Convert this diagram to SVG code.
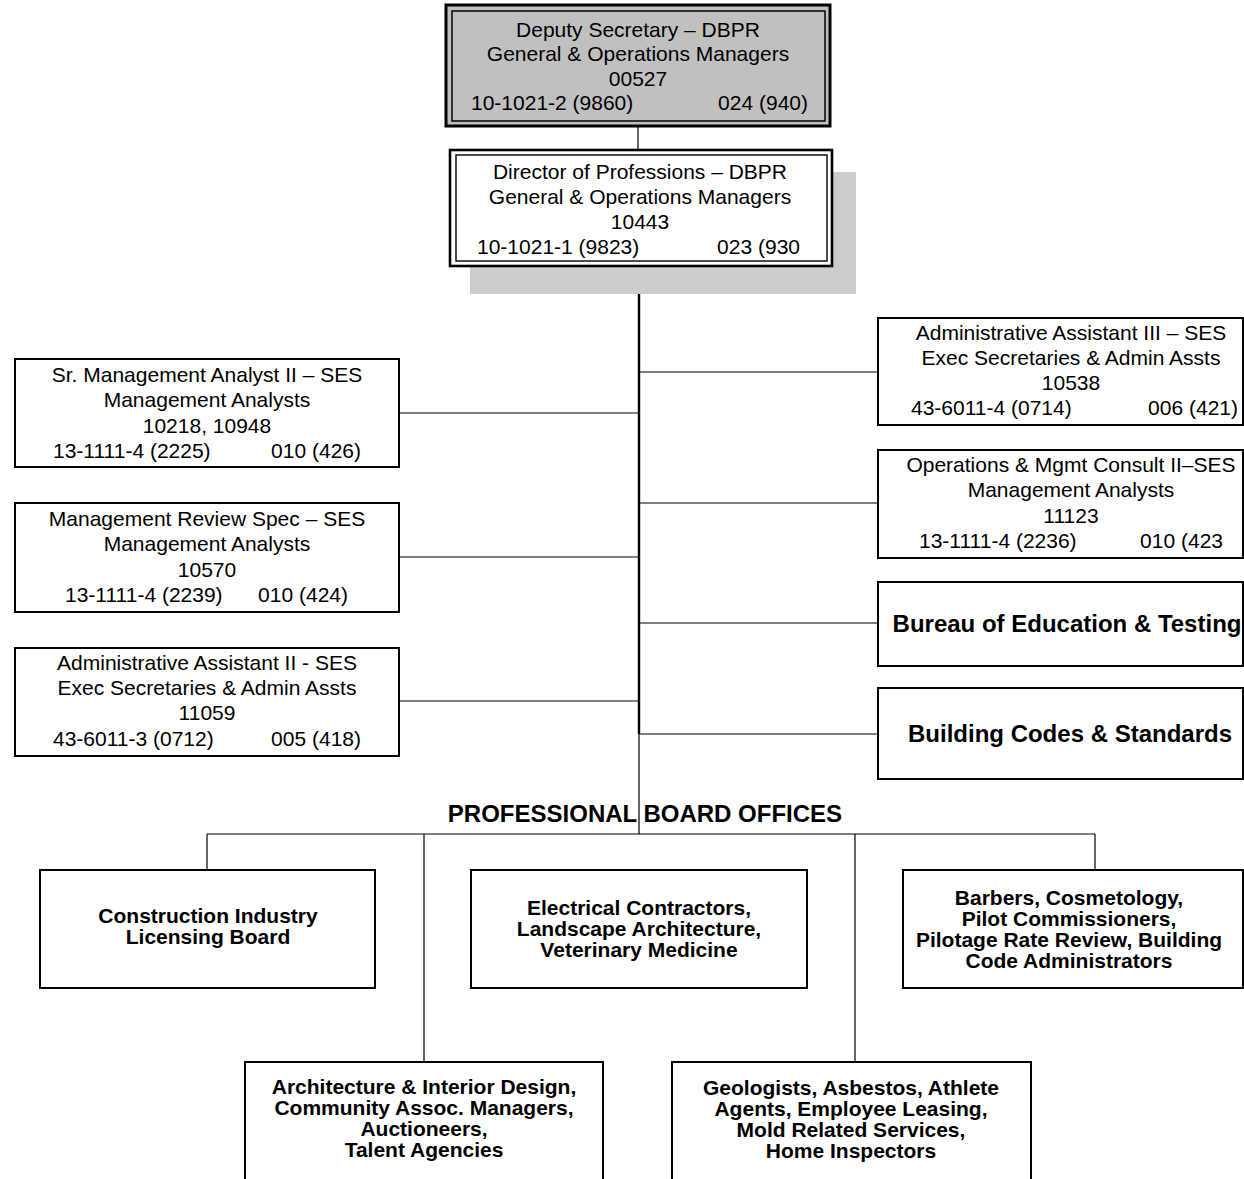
<svg xmlns="http://www.w3.org/2000/svg" width="1244" height="1179" viewBox="0 0 1244 1179">
  <style>
    text { font-family: "Liberation Sans", Arial, sans-serif; fill: #000; }
    .t { font-size: 21px; text-anchor: middle; }
    .l { font-size: 21px; text-anchor: start; }
    .r { font-size: 21px; text-anchor: end; }
    .b { font-size: 21px; font-weight: bold; text-anchor: middle; }
    .bb { font-size: 24px; font-weight: bold; text-anchor: middle; }
    .box { fill: #fff; stroke: #000; stroke-width: 2; }
    .wire { stroke: #000; stroke-width: 1.2; fill: none; }
    .trunk { stroke: #000; stroke-width: 2.4; fill: none; }
  </style>

  <!-- connectors -->
  <g id="connectors">
    <line class="wire" x1="638" y1="126" x2="638" y2="150"/>
    <line class="trunk" x1="639" y1="266" x2="639" y2="734"/>
    <line class="wire" x1="639" y1="734" x2="639" y2="834"/>
    <line class="wire" x1="399" y1="413" x2="639" y2="413"/>
    <line class="wire" x1="399" y1="557" x2="639" y2="557"/>
    <line class="wire" x1="399" y1="701" x2="639" y2="701"/>
    <line class="wire" x1="639" y1="372" x2="878" y2="372"/>
    <line class="wire" x1="639" y1="503" x2="878" y2="503"/>
    <line class="wire" x1="639" y1="623" x2="878" y2="623"/>
    <line class="wire" x1="639" y1="734" x2="878" y2="734"/>
    <line class="wire" x1="207" y1="834" x2="1095" y2="834"/>
    <line class="wire" x1="207" y1="834" x2="207" y2="870"/>
    <line class="wire" x1="424" y1="834" x2="424" y2="1062"/>
    <line class="wire" x1="855" y1="834" x2="855" y2="1062"/>
    <line class="wire" x1="1095" y1="834" x2="1095" y2="870"/>
  </g>

  <!-- Deputy Secretary -->
  <g id="deputy-secretary">
    <rect x="446" y="5" width="384" height="121" fill="#c0c0c0" stroke="#000" stroke-width="3"/>
    <rect x="452" y="11" width="373" height="110" fill="none" stroke="#000" stroke-width="1.5"/>
    <text class="t" x="638" y="37">Deputy Secretary – DBPR</text>
    <text class="t" x="638" y="61">General &amp; Operations Managers</text>
    <text class="t" x="638" y="86">00527</text>
    <text class="l" x="471" y="110">10-1021-2 (9860)</text>
    <text class="r" x="808" y="110">024 (940)</text>
  </g>

  <!-- Director of Professions -->
  <g id="director">
    <rect x="470" y="172" width="386" height="122" fill="#cccccc"/>
    <rect x="450" y="150" width="382" height="116" fill="#fff" stroke="#000" stroke-width="2.6"/>
    <rect x="456" y="155" width="371" height="106" fill="none" stroke="#000" stroke-width="1.4"/>
    <text class="t" x="640" y="179">Director of Professions – DBPR</text>
    <text class="t" x="640" y="204">General &amp; Operations Managers</text>
    <text class="t" x="640" y="229">10443</text>
    <text class="l" x="477" y="254">10-1021-1 (9823)</text>
    <text class="r" x="800" y="254">023 (930</text>
  </g>

  <!-- left column -->
  <g id="sr-management-analyst">
    <rect class="box" x="15" y="359" width="384" height="108"/>
    <text class="t" x="207" y="382">Sr. Management Analyst II – SES</text>
    <text class="t" x="207" y="407">Management Analysts</text>
    <text class="t" x="207" y="433">10218, 10948</text>
    <text class="l" x="53" y="458">13-1111-4 (2225)</text>
    <text class="r" x="361" y="458">010 (426)</text>
  </g>

  <g id="management-review-spec">
    <rect class="box" x="15" y="503" width="384" height="109"/>
    <text class="t" x="207" y="526">Management Review Spec – SES</text>
    <text class="t" x="207" y="551">Management Analysts</text>
    <text class="t" x="207" y="577">10570</text>
    <text class="l" x="65" y="602">13-1111-4 (2239)</text>
    <text class="r" x="348" y="602">010 (424)</text>
  </g>

  <g id="admin-assistant-ii">
    <rect class="box" x="15" y="648" width="384" height="108"/>
    <text class="t" x="207" y="670">Administrative Assistant II - SES</text>
    <text class="t" x="207" y="695">Exec Secretaries &amp; Admin Assts</text>
    <text class="t" x="207" y="720">11059</text>
    <text class="l" x="53" y="746">43-6011-3 (0712)</text>
    <text class="r" x="361" y="746">005 (418)</text>
  </g>

  <!-- right column -->
  <g id="admin-assistant-iii">
    <rect class="box" x="878" y="318" width="365" height="107"/>
    <text class="t" x="1071" y="340">Administrative Assistant III – SES</text>
    <text class="t" x="1071" y="365">Exec Secretaries &amp; Admin Assts</text>
    <text class="t" x="1071" y="390">10538</text>
    <text class="l" x="911" y="415">43-6011-4 (0714)</text>
    <text class="r" x="1238" y="415">006 (421)</text>
  </g>

  <g id="operations-mgmt-consult">
    <rect class="box" x="878" y="450" width="365" height="108"/>
    <text class="t" x="1071" y="472">Operations &amp; Mgmt Consult II–SES</text>
    <text class="t" x="1071" y="497">Management Analysts</text>
    <text class="t" x="1071" y="523">11123</text>
    <text class="l" x="919" y="548">13-1111-4 (2236)</text>
    <text class="r" x="1223" y="548">010 (423</text>
  </g>

  <g id="bureau-education-testing">
    <rect class="box" x="878" y="582" width="365" height="84"/>
    <text class="bb" x="1067" y="632">Bureau of Education &amp; Testing</text>
  </g>

  <g id="building-codes">
    <rect class="box" x="878" y="688" width="365" height="91"/>
    <text class="bb" x="1070" y="742">Building Codes &amp; Standards</text>
  </g>

  <!-- board offices -->
  <text class="bb" x="645" y="822">PROFESSIONAL BOARD OFFICES</text>

  <g id="construction-industry">
    <rect class="box" x="40" y="870" width="335" height="118"/>
    <text class="b" x="208" y="923">Construction Industry</text>
    <text class="b" x="208" y="944">Licensing Board</text>
  </g>

  <g id="electrical-contractors">
    <rect class="box" x="471" y="870" width="336" height="118"/>
    <text class="b" x="639" y="915">Electrical Contractors,</text>
    <text class="b" x="639" y="936">Landscape Architecture,</text>
    <text class="b" x="639" y="957">Veterinary Medicine</text>
  </g>

  <g id="barbers-cosmetology">
    <rect class="box" x="903" y="870" width="340" height="118"/>
    <text class="b" x="1069" y="905">Barbers, Cosmetology,</text>
    <text class="b" x="1069" y="926">Pilot Commissioners,</text>
    <text class="b" x="1069" y="947">Pilotage Rate Review, Building</text>
    <text class="b" x="1069" y="968">Code Administrators</text>
  </g>

  <g id="architecture-interior">
    <rect class="box" x="245" y="1062" width="358" height="140"/>
    <text class="b" x="424" y="1094">Architecture &amp; Interior Design,</text>
    <text class="b" x="424" y="1115">Community Assoc. Managers,</text>
    <text class="b" x="424" y="1136">Auctioneers,</text>
    <text class="b" x="424" y="1157">Talent Agencies</text>
  </g>

  <g id="geologists-asbestos">
    <rect class="box" x="672" y="1062" width="359" height="140"/>
    <text class="b" x="851" y="1095">Geologists, Asbestos, Athlete</text>
    <text class="b" x="851" y="1116">Agents, Employee Leasing,</text>
    <text class="b" x="851" y="1137">Mold Related Services,</text>
    <text class="b" x="851" y="1158">Home Inspectors</text>
  </g>
</svg>
